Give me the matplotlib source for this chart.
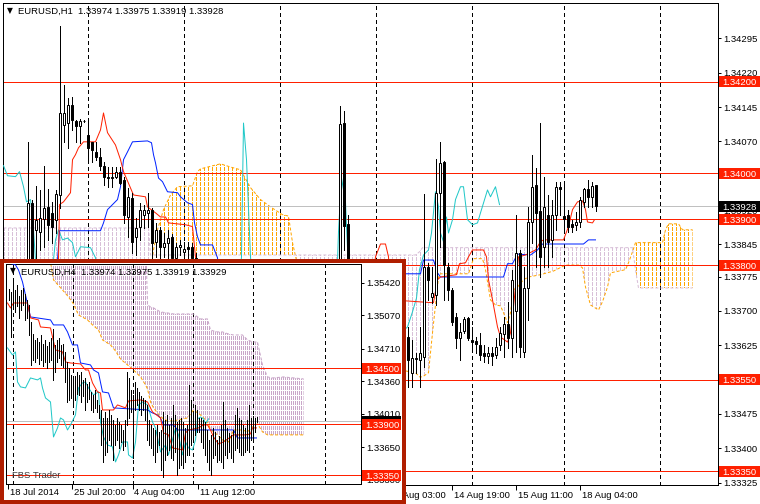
import numpy as np
import matplotlib
matplotlib.use("Agg")
import matplotlib.pyplot as plt
from matplotlib.path import Path
from matplotlib.patches import Rectangle

plt.rcParams['font.family'] = ['Liberation Sans', 'DejaVu Sans']
plt.rcParams['lines.scale_dashes'] = False

nan = np.nan

# ---------------- EURUSD H1 (main chart), bar 0 = first candle on the left ----------------
# bars 43-77 and 81-94 sit behind the H4 window, so they are left empty
h1_open = [1.33760, 1.33936, 1.33877, 1.33873, 1.33901, 1.33927, 1.33914, 1.33899, 1.33953, 1.34106,
           1.34110, 1.34150, 1.34115, 1.34104, 1.34115, 1.34084, 1.34069, 1.34047, 1.34036, 1.34017,
           1.33993, 1.33991, 1.33993, 1.34004, 1.33986, 1.33905, 1.33947, 1.33862, 1.33884, 1.33910,
           1.33914, 1.33921, 1.33851, 1.33877, 1.33840, 1.33849, 1.33862, 1.33816, 1.33840, 1.33829,
           1.33840, 1.33840, 1.33816] + [nan] * 35 + [1.33720, 1.34110, 1.33890] + [nan] * 14 + \
          [1.33643, 1.33565, 1.33595, 1.33593, 1.33600, 1.33796, 1.33731, 1.33735, 1.33958, 1.34025,
           1.33796, 1.33746, 1.33687, 1.33641, 1.33656, 1.33685, 1.33637, 1.33635, 1.33626, 1.33608,
           1.33602, 1.33608, 1.33604, 1.33626, 1.33650, 1.33672, 1.33640, 1.33700, 1.33827, 1.33611,
           1.33750, 1.33894, 1.33975, 1.33918, 1.33840, 1.33910, 1.33855, 1.33910, 1.33971, 1.33907,
           1.33910, 1.33890, 1.33888, 1.33894, 1.33938, 1.33966, 1.33949, 1.33974]
h1_high = [1.34069, 1.33943, 1.33973, 1.33964, 1.34017, 1.33966, 1.33938, 1.33964, 1.34322, 1.34193,
           1.34165, 1.34167, 1.34117, 1.34119, 1.34117, 1.34113, 1.34069, 1.34069, 1.34056, 1.34025,
           1.34014, 1.34014, 1.34014, 1.34014, 1.33993, 1.33969, 1.33958, 1.33903, 1.33936, 1.33932,
           1.33958, 1.33925, 1.33892, 1.33884, 1.33870, 1.33877, 1.33868, 1.33849, 1.33855, 1.33851,
           1.33851, 1.33849, 1.33827] + [nan] * 35 + [1.34148, 1.34137, 1.33910] + [nan] * 14 + \
          [1.33665, 1.33637, 1.33608, 1.33665, 1.33956, 1.33805, 1.33796, 1.34032, 1.34069, 1.34027,
           1.33805, 1.33750, 1.33696, 1.33674, 1.33687, 1.33687, 1.33665, 1.33643, 1.33652, 1.33626,
           1.33621, 1.33621, 1.33641, 1.33665, 1.33687, 1.33720, 1.33790, 1.33910, 1.33833, 1.33796,
           1.33927, 1.34041, 1.34012, 1.34110, 1.33993, 1.33953, 1.33943, 1.33982, 1.33982, 1.33980,
           1.33921, 1.33899, 1.33916, 1.33949, 1.33969, 1.33986, 1.33982, 1.33975]
h1_low = [1.33740, 1.33720, 1.33780, 1.33833, 1.33840, 1.33855, 1.33849, 1.33870, 1.33925, 1.34069,
          1.34056, 1.34095, 1.34069, 1.34067, 1.34113, 1.34030, 1.34025, 1.34030, 1.34008, 1.33975,
          1.33971, 1.33971, 1.33991, 1.33978, 1.33892, 1.33862, 1.33827, 1.33822, 1.33855, 1.33881,
          1.33884, 1.33811, 1.33818, 1.33816, 1.33818, 1.33816, 1.33800, 1.33800, 1.33822, 1.33816,
          1.33816, 1.33790, 1.33780] + [nan] * 35 + [1.33700, 1.33833, 1.33700] + [nan] * 14 + \
         [1.33534, 1.33534, 1.33565, 1.33534, 1.33578, 1.33724, 1.33718, 1.33713, 1.33840, 1.33724,
          1.33724, 1.33670, 1.33619, 1.33593, 1.33652, 1.33637, 1.33615, 1.33608, 1.33593, 1.33589,
          1.33587, 1.33582, 1.33597, 1.33615, 1.33600, 1.33620, 1.33600, 1.33611, 1.33600, 1.33600,
          1.33680, 1.33849, 1.33796, 1.33774, 1.33796, 1.33796, 1.33818, 1.33877, 1.33910, 1.33870,
          1.33873, 1.33873, 1.33877, 1.33884, 1.33927, 1.33927, 1.33927, 1.33919]
h1_close = [1.33936, 1.33760, 1.33899, 1.33903, 1.33925, 1.33888, 1.33884, 1.33956, 1.34132, 1.34132,
            1.34150, 1.34117, 1.34104, 1.34115, 1.34115, 1.34056, 1.34052, 1.34036, 1.34017, 1.33993,
            1.33991, 1.33993, 1.34004, 1.33980, 1.33910, 1.33949, 1.33851, 1.33881, 1.33921, 1.33921,
            1.33921, 1.33849, 1.33877, 1.33840, 1.33849, 1.33859, 1.33816, 1.33840, 1.33844, 1.33835,
            1.33835, 1.33816, 1.33800] + [nan] * 35 + [1.34108, 1.33886, 1.33730] + [nan] * 14 + \
           [1.33593, 1.33597, 1.33597, 1.33608, 1.33796, 1.33768, 1.33739, 1.33958, 1.34023, 1.33800,
            1.33746, 1.33676, 1.33641, 1.33654, 1.33683, 1.33641, 1.33632, 1.33628, 1.33604, 1.33602,
            1.33608, 1.33602, 1.33621, 1.33652, 1.33672, 1.33640, 1.33768, 1.33827, 1.33621, 1.33750,
            1.33894, 1.33971, 1.33914, 1.33818, 1.33927, 1.33851, 1.33910, 1.33971, 1.33966, 1.33901,
            1.33884, 1.33884, 1.33894, 1.33943, 1.33966, 1.33949, 1.33973, 1.33928]

# Ichimoku lines of the H1 chart (x in bars)
h1_tenkan_x = [-6, 7.25, 7.75, 8, 9, 10.75, 11.25, 12, 12.75, 14, 17, 18.25, 19, 20, 22, 23.25, 24, 26.5,
               29.5, 30, 32, 33.25, 34.5, 35.25, 39.5, 41.25, 42, 42.75, 85.75, 87, 88.25, 89.5, 90.25,
               91, 101, 101.5, 102.5, 103.25, 107.25, 108, 109.5, 110.25, 111.25, 114, 114.75, 115.25,
               116.25, 117.5, 118.25, 120, 120.75, 121.5, 122.75, 124.5, 127, 128.25, 129, 134, 135.25,
               136.25, 137.5, 138.75, 139.5, 140, 141.25, 141.75]
h1_tenkan = [1.33724, 1.33724, 1.33811, 1.33932, 1.33938, 1.33958, 1.34030, 1.34041, 1.34056, 1.34069,
             1.34069, 1.34095, 1.34132, 1.34089, 1.34062, 1.34030, 1.34004, 1.33953, 1.33949, 1.33927,
             1.33914, 1.33905, 1.33905, 1.33892, 1.33888, 1.33884, 1.33818, 1.33724, 1.33724, 1.33818,
             1.33846, 1.33846, 1.33818, 1.33724, 1.33718, 1.33718, 1.33768, 1.33774, 1.33779, 1.33803,
             1.33805, 1.33818, 1.33833, 1.33833, 1.33818, 1.33768, 1.33724, 1.33665, 1.33643, 1.33632,
             1.33652, 1.33709, 1.33818, 1.33822, 1.33833, 1.33851, 1.33855, 1.33855, 1.33884, 1.33921,
             1.33938, 1.33940, 1.33921, 1.33894, 1.33892, 1.33899]
h1_kijun_x = [-6, 7.25, 7.5, 8, 18.25, 19, 20, 21.25, 22.5, 23.25, 24, 25, 26.25, 30, 31, 31.5, 32, 32.75,
              33.75, 35, 37.5, 38.25, 40, 41.25, 41.75, 42.5, 43.25, 46.25, 47, 47.5, 48.25, 92, 93.25,
              98.25, 99, 101.5, 102.5, 103.25, 119, 120, 121.25, 122.5, 125.75, 127.5, 128.75, 139,
              140.25, 142]
h1_kijun = [1.33724, 1.33724, 1.33811, 1.33875, 1.33875, 1.33892, 1.33921, 1.33932, 1.33943, 1.33971,
            1.34030, 1.34047, 1.34069, 1.34071, 1.34067, 1.34041, 1.34023, 1.33990, 1.33982, 1.33960,
            1.33958, 1.33949, 1.33936, 1.33932, 1.33892, 1.33862, 1.33844, 1.33844, 1.33827, 1.33816,
            1.33746, 1.33746, 1.33781, 1.33781, 1.33811, 1.33811, 1.33783, 1.33774, 1.33774, 1.33803,
            1.33803, 1.33824, 1.33822, 1.33833, 1.33846, 1.33846, 1.33855, 1.33855]
h1_chikou_x = [-6, -5, -3, -2, -1, -0.25, 0.75, 1.25, 2, 3.25, 5.75, 7, 7.75, 8.75, 10, 11.25, 12, 13.25,
               15.75, 17, 18.25, 52.75, 53.5, 54, 54.75, 55.75, 56.5, 76.75, 77.5, 77.75, 78.5, 79, 79.5,
               79.75, 80.5, 94.25, 95, 96.25, 97.25, 98, 99, 100.25, 101, 102, 102.75, 103.25, 104,
               104.75, 105.25, 106.25, 107, 108.25, 109, 110, 111.25, 112.5, 113.25, 115, 115.75, 117, 118]
h1_chikou = [1.34017, 1.33995, 1.33993, 1.34004, 1.33971, 1.33938, 1.33943, 1.33910, 1.33811, 1.33746,
             1.33746, 1.33855, 1.33877, 1.33855, 1.33859, 1.33849, 1.33818, 1.33840, 1.33838, 1.33816,
             1.33746, 1.33746, 1.33818, 1.34110, 1.34030, 1.33818, 1.33746, 1.33746, 1.33807, 1.33873,
             1.33990, 1.33964, 1.33938, 1.33884, 1.33746, 1.33659, 1.33665, 1.33698, 1.33728, 1.33790,
             1.33822, 1.33833, 1.33870, 1.33960, 1.33927, 1.33870, 1.33851, 1.33905, 1.33870, 1.33899,
             1.33943, 1.33971, 1.33971, 1.33899, 1.33888, 1.33892, 1.33914, 1.33964, 1.33949, 1.33971,
             1.33932]
h1_span_x = [-6, 30.25, 30.75, 31.5, 32.5, 34, 35.75, 37.5, 41.25, 42.5, 43.25, 48.25, 50.75, 53.25,
             55.75, 58.25, 60.75, 63.75, 65.25, 66.25, 67.5, 70.75, 93.25, 97, 98, 98.75, 100.25, 101.25,
             102, 102.75, 103.25, 110.25, 111.5, 113.75, 114.5, 115.75, 117, 118.25, 119, 120, 120.75,
             121.5, 122.5, 124, 125.25, 128.25, 131.5, 134.5, 137.75, 138.75, 139.5, 140.75, 142.75,
             143.75, 145, 145.75, 149.5, 150.25, 151.25, 152, 152.75, 158.75, 159.5, 160.25, 162.75,
             163.75, 166.25]
h1_span_a = [1.33724, 1.33724, 1.33779, 1.33833, 1.33877, 1.33921, 1.33953, 1.33971, 1.33973, 1.34004,
             1.34010, 1.34021, 1.34014, 1.34008, 1.33969, 1.33943, 1.33927, 1.33910, 1.33907, 1.33849,
             1.33800, 1.33724, 1.33571, 1.33565, 1.33556, 1.33556, 1.33565, 1.33652, 1.33713, 1.33774,
             1.33781, 1.33781, 1.33814, 1.33814, 1.33790, 1.33724, 1.33713, 1.33711, 1.33696, 1.33674,
             1.33696, 1.33746, 1.33752, 1.33768, 1.33774, 1.33779, 1.33787, 1.33800, 1.33800, 1.33794,
             1.33752, 1.33713, 1.33702, 1.33720, 1.33752, 1.33783, 1.33790, 1.33805, 1.33829, 1.33849,
             1.33849, 1.33849, 1.33877, 1.33890, 1.33890, 1.33877, 1.33877]
h1_span_b = [1.33881] * 2 + [1.33822] * 22 + [1.33829] + [1.33838] * 34 + [1.33790] + [1.33750] * 7

h1_levels = [1.34200, 1.34000, 1.33900, 1.33800, 1.33550, 1.33350]
h1_last = 1.33928
h1_price_ticks = [1.34295, 1.34220, 1.34145, 1.34070, 1.33995, 1.33920, 1.33845, 1.33775, 1.33700,
                  1.33625, 1.33475, 1.33400, 1.33325]
h1_grid = [15, 39, 63, 87, 111, 134, 158]
h1_date_pos = [90, 106, 122, 138]
h1_date_lab = ['13 Aug 03:00', '14 Aug 19:00', '15 Aug 11:00', '18 Aug 04:00']

# ---------------- EURUSD H4 (small window), bar 0 = first bar on the left ----------------
h4_high = [1.35353, 1.35321, 1.35428, 1.35342, 1.35396, 1.35278, 1.35342, 1.35364, 1.35299, 1.35235,
           1.35181, 1.34998, 1.34869, 1.34805, 1.34826, 1.34783, 1.34858, 1.34762, 1.34805, 1.34740,
           1.34783, 1.34826, 1.34923, 1.34751, 1.34805, 1.34826, 1.34751, 1.34762, 1.34676, 1.34568,
           1.34504, 1.34429, 1.34375, 1.34418, 1.34461, 1.34429, 1.34461, 1.34375, 1.34396, 1.34332,
           1.34353, 1.34246, 1.34214, 1.34267, 1.34160, 1.34106, 1.34052, 1.33966, 1.34031, 1.33966,
           1.34052, 1.33999, 1.33945, 1.33891, 1.33966, 1.33923, 1.33891, 1.33837, 1.33945, 1.34461,
           1.34396, 1.34267, 1.34214, 1.34353, 1.34289, 1.34246, 1.34203, 1.34181, 1.34160, 1.34106,
           1.33945, 1.33891, 1.33859, 1.33837, 1.33891, 1.33816, 1.33837, 1.34031, 1.33945, 1.33999,
           1.33891, 1.33966, 1.34106, 1.33999, 1.33923, 1.33945, 1.33966, 1.33923, 1.33859, 1.33891,
           1.34321, 1.34160, 1.34031, 1.34106, 1.34052, 1.33966, 1.33966, 1.33945, 1.33923, 1.33837,
           1.33730, 1.33784, 1.33859, 1.33816, 1.33730, 1.33773, 1.33891, 1.34138, 1.33945, 1.33859,
           1.33805, 1.33784, 1.33837, 1.33999, 1.34074, 1.33966, 1.33945, 1.33891, 1.33859, 1.33945,
           1.34106, 1.33966, 1.33988, 1.33966, 1.33975]
h4_low = [1.35235, 1.34837, 1.35181, 1.35106, 1.35170, 1.35041, 1.35127, 1.35181, 1.35020, 1.35041,
          1.34858, 1.34536, 1.34590, 1.34568, 1.34611, 1.34547, 1.34590, 1.34525, 1.34568, 1.34504,
          1.34568, 1.34590, 1.34375, 1.34461, 1.34568, 1.34611, 1.34536, 1.34514, 1.34353, 1.34138,
          1.34160, 1.34181, 1.34117, 1.34160, 1.34224, 1.34214, 1.34138, 1.34203, 1.34052, 1.34138,
          1.34171, 1.34052, 1.34031, 1.34074, 1.34031, 1.33966, 1.33676, 1.33493, 1.33569, 1.33601,
          1.33730, 1.33676, 1.33515, 1.33676, 1.33730, 1.33644, 1.33708, 1.33622, 1.33665, 1.33891,
          1.33966, 1.34031, 1.33536, 1.34052, 1.34106, 1.34052, 1.33999, 1.34052, 1.33945, 1.33730,
          1.33676, 1.33644, 1.33569, 1.33493, 1.33601, 1.33676, 1.33407, 1.33332, 1.33515, 1.33569,
          1.33622, 1.33536, 1.33515, 1.33601, 1.33354, 1.33429, 1.33461, 1.33429, 1.33493, 1.33569,
          1.33569, 1.33676, 1.33708, 1.33784, 1.33816, 1.33816, 1.33708, 1.33644, 1.33569, 1.33493,
          1.33407, 1.33354, 1.33536, 1.33569, 1.33493, 1.33515, 1.33493, 1.33429, 1.33569, 1.33536,
          1.33601, 1.33536, 1.33493, 1.33622, 1.33644, 1.33601, 1.33569, 1.33569, 1.33601, 1.33622,
          1.33601, 1.33730, 1.33751, 1.33816, 1.33919]

h4_tenkan_x = [-0.5, 1, 2.5, 9.5, 11, 15, 16, 21, 22, 23.5, 27, 28.5, 31, 36, 38.5, 40, 42, 44.5, 46, 47,
               52.5, 54.5, 58.5, 60, 66, 69.5, 72, 76, 77.5, 80, 82, 87, 88.5, 90, 95, 97.5, 99.5, 101,
               102.5, 105, 107.5, 112.5, 118.5, 121, 122, 124]
h4_tenkan = [1.35202, 1.35149, 1.35202, 1.35202, 1.35041, 1.35020, 1.34944, 1.34934, 1.34837, 1.34697,
             1.34676, 1.34568, 1.34557, 1.34547, 1.34482, 1.34482, 1.34343, 1.34246, 1.34235, 1.34052,
             1.34052, 1.34106, 1.34074, 1.34149, 1.34160, 1.34138, 1.34031, 1.33966, 1.33805, 1.33784,
             1.33644, 1.33622, 1.33805, 1.33837, 1.33859, 1.33891, 1.33891, 1.33837, 1.33762, 1.33687,
             1.33708, 1.33784, 1.33784, 1.33794, 1.33859, 1.33859]
h4_kijun_x = [-1, 3.5, 5, 7, 8.5, 11, 14.5, 21, 22.5, 27.5, 29.5, 32, 34.5, 36, 41, 42.5, 45, 47, 50, 52.5,
              69.5, 72, 74.5, 76, 77.5, 82.5, 84.5, 112.5, 114.5, 124]
h4_kijun = [1.35643, 1.35611, 1.35557, 1.35428, 1.35288, 1.35052, 1.35041, 1.35020, 1.34966, 1.34966,
            1.34891, 1.34751, 1.34751, 1.34557, 1.34536, 1.34482, 1.34450, 1.34246, 1.34235, 1.34074,
            1.34052, 1.34020, 1.33999, 1.33966, 1.33891, 1.33891, 1.33837, 1.33837, 1.33751, 1.33751]
h4_chikou_x = [-0.5, 2, 3.5, 4.5, 6, 8.5, 11, 14.5, 16, 17, 18.5, 21, 22.5, 24.5, 26, 27.5, 29.5, 31, 33.5,
               35, 37, 38.5, 40, 42.5, 45, 46, 47.5, 49.5, 52, 53.5, 55, 57, 59.5, 60, 62, 63.5, 65, 67,
               69.5, 72, 73.5, 76, 78.5, 80, 82, 83.5, 85, 87, 88.5, 90, 92, 93.5, 94.5, 96, 97.5, 98.5, 100]
h4_chikou = [1.34719, 1.34643, 1.34676, 1.34353, 1.34300, 1.34289, 1.34396, 1.34375, 1.34396, 1.34289,
             1.34181, 1.34138, 1.33762, 1.33859, 1.33966, 1.33945, 1.33837, 1.33891, 1.33999, 1.34289,
             1.34343, 1.34353, 1.34289, 1.34214, 1.34246, 1.33923, 1.33762, 1.33676, 1.33655, 1.33493,
             1.33569, 1.33708, 1.33708, 1.33569, 1.33536, 1.33708, 1.34106, 1.34138, 1.34106, 1.33923,
             1.33859, 1.33601, 1.33676, 1.33569, 1.33730, 1.33859, 1.33784, 1.33569, 1.33708, 1.33644,
             1.33622, 1.33730, 1.33956, 1.33977, 1.33956, 1.33902, 1.33956]
h4_span_x = [-1, 18.5, 21, 22.5, 27, 30, 32.5, 35, 39.5, 42, 45, 47, 51, 53.5, 56, 59.5, 62, 66, 68.5, 69.5,
             71, 72.5, 76, 79.5, 82.5, 89.5, 92.5, 96, 99.5, 101, 102.5, 104.5, 107, 110, 112.5, 117,
             119.5, 122, 124.5, 127, 129.5, 132, 137.5, 147.5]
h4_span_a = [1.35879, 1.35772, 1.35643, 1.35450, 1.35342, 1.35267, 1.35192, 1.35073, 1.35020, 1.34966,
             1.34912, 1.34805, 1.34751, 1.34686, 1.34600, 1.34536, 1.34493, 1.34407, 1.34321, 1.34278,
             1.34138, 1.34074, 1.33977, 1.33934, 1.33934, 1.33966, 1.34052, 1.33999, 1.33923, 1.33848,
             1.33816, 1.33784, 1.33730, 1.33708, 1.33837, 1.33837, 1.33816, 1.33870, 1.33902, 1.33816,
             1.33784, 1.33784, 1.33784, 1.33784]
h4_span_b = [1.35987] * 19 + [1.35181, 1.35159, 1.35149, 1.35106, 1.35095, 1.35084, 1.35084, 1.35084,
                              1.35030, 1.35030, 1.34912, 1.34901, 1.34891, 1.34891, 1.34869, 1.34858,
                              1.34858, 1.34805, 1.34783, 1.34783, 1.34536, 1.34407, 1.34396, 1.34407,
                              1.34386]

h4_levels = [1.34500, 1.33900, 1.33350]
h4_last = 1.33929
h4_price_ticks = [1.35420, 1.35070, 1.34710, 1.34360, 1.34010, 1.33650, 1.33300]
h4_grid = [2, 32, 62, 92, 122, 158]
h4_date_pos = [-0.5, 31.5, 62, 94.5]
h4_date_lab = ['18 Jul 2014', '25 Jul 20:00', '4 Aug 04:00', '11 Aug 12:00']

# ---------------- styling ----------------
RED = '#ff2000'
BLUE = '#0022ff'
CYAN = '#20c8c8'
SANDY = '#ffa500'
THISTLE = '#d8bfd8'
THISTLE_H4 = '#c9a6c9'
SILVER = '#c0c0c0'
FRAME_RED = '#b01e00'
FS = 6.8
PX = 0.72          # one pixel in points at 100 dpi
W, H = 760, 504

fig = plt.figure(figsize=(W / 100, H / 100), dpi=100)
fig.patch.set_facecolor('white')


def box(x0, y0, x1, y1):
    return [x0 / W, 1 - y1 / H, (x1 - x0) / W, (y1 - y0) / H]


def crisp_vlines(ax, x, lo, hi, color, dash=None, z=1):
    kw = {} if dash is None else {'linestyles': [(0, dash)]}
    lc = ax.vlines(x, lo, hi, colors=color, linewidth=PX, zorder=z, **kw)
    lc.set_antialiased(False)
    return lc


def cloud(ax, x, a, b, thistle, dash):
    x, a, b = np.asarray(x), np.asarray(a), np.asarray(b)
    lo, hi = ax.get_ylim()
    cols = np.arange(np.ceil(x[0]), x[-1] + 1e-9, 1)
    for mask, col in ((a >= b, SANDY), (a < b, thistle)):
        poly = ax.fill_between(x, a, b, where=mask, interpolate=True,
                               facecolor='none', edgecolor='none', linewidth=0)
        paths = poly.get_paths()
        if len(paths) == 0:
            continue
        hatch = crisp_vlines(ax, cols, lo, hi, col, dash=dash, z=1)
        hatch.set_clip_path(Path.make_compound_path(*paths), ax.transData)
    ax.plot(x, a, color=SANDY, lw=PX, ls=(0, (3 * PX, 2 * PX)), zorder=1.5)
    ax.plot(x, b, color=thistle, lw=PX, ls=(0, (3 * PX, 2 * PX)), zorder=1.5)


def frame(ax):
    for s in ax.spines.values():
        s.set_color('black')
        s.set_linewidth(PX)
    ax.set_facecolor('white')


def price_tag(ax, price, text, fc, x0, x1, z):
    yc = ax.transData.transform((0, price))[1]
    fig.add_artist(Rectangle((x0 / W, (yc - 5.5) / H), (x1 - x0) / W, 11 / H,
                             transform=fig.transFigure, fc=fc, ec='none', zorder=z))
    fig.text((x0 + 3) / W, yc / H, text, color='white', fontsize=FS,
             ha='left', va='center_baseline', zorder=z + 0.1)


def chart(ax, grid, levels, last, ticks, date_pos, date_lab, label_dy):
    lo, hi = ax.get_ylim()
    crisp_vlines(ax, grid, lo, hi, 'black', dash=(3 * PX, 3 * PX), z=1.2)
    ax.axhline(last, color=SILVER, lw=PX, zorder=2)
    for lv in levels:
        ax.axhline(lv, color=RED, lw=PX, zorder=2)
    ax.yaxis.tick_right()
    ax.set_yticks(ticks)
    ax.set_yticklabels(['%.5f' % t for t in ticks])
    ax.tick_params(axis='y', length=3 * PX, width=PX, pad=2 * PX, labelsize=FS, direction='out')
    ax.set_xticks(date_pos)
    ax.set_xticklabels([])
    ax.tick_params(axis='x', length=5 * PX, width=PX, direction='out')
    for p, lab in zip(date_pos, date_lab):
        ax.annotate(lab, xy=(p, 0), xycoords=('data', 'axes fraction'), xytext=(2 * PX, label_dy),
                    textcoords='offset points', ha='left', va='center', fontsize=FS,
                    annotation_clip=False)


# ---------------- main H1 chart ----------------
ax = fig.add_axes(box(3, 3, 718, 485))
ax.set_xlim(-6.125, 172.625)
ax.set_ylim(1.33320, 1.34372)
frame(ax)
cloud(ax, h1_span_x, h1_span_a, h1_span_b, THISTLE, (3 * PX, 2 * PX))
chart(ax, h1_grid, h1_levels, h1_last, h1_price_ticks, h1_date_pos, h1_date_lab, -7.4)
ax.plot(h1_chikou_x, h1_chikou, color=CYAN, lw=PX, zorder=3)
ax.plot(h1_kijun_x, h1_kijun, color=BLUE, lw=PX, zorder=3)
ax.plot(h1_tenkan_x, h1_tenkan, color=RED, lw=PX, zorder=3)

o, hh, ll, c = (np.array(v) for v in (h1_open, h1_high, h1_low, h1_close))
idx = np.arange(len(c))
ok = ~np.isnan(c)
crisp_vlines(ax, idx[ok], ll[ok], hh[ok], 'black', z=4)
ax.bar(idx[ok], np.abs(c - o)[ok], bottom=np.minimum(o, c)[ok], width=0.5,
       color=['white' if up else 'black' for up in (c >= o)[ok]],
       edgecolor='black', linewidth=PX, zorder=5)

price_tag(ax, h1_last, '%.5f' % h1_last, 'black', 719, 760, 2)
for lv in h1_levels:
    price_tag(ax, lv, '%.5f' % lv, RED, 719, 760, 2.5)

fig.text(7 / W, 1 - 11 / H, '\u25bc', fontsize=5.5, family='DejaVu Sans', va='center', zorder=3)
fig.text(18 / W, 1 - 11 / H, 'EURUSD,H1  1.33974 1.33975 1.33919 1.33928', fontsize=FS,
         va='center', zorder=3)

# ---------------- H4 window ----------------
holder = fig.add_axes(box(2, 261, 403.5, 502), zorder=5)
holder.set_xticks([])
holder.set_yticks([])
holder.set_facecolor('white')
for s in holder.spines.values():
    s.set_color(FRAME_RED)
    s.set_linewidth(4 * PX)

ins = fig.add_axes(box(6, 264, 361, 484), zorder=6)
ins.set_xlim(-1.25, 176.25)
ins.set_ylim(1.33256, 1.35621)
frame(ins)
cloud(ins, h4_span_x, h4_span_a, h4_span_b, THISTLE_H4, (3 * PX, 1.5 * PX))
chart(ins, h4_grid, h4_levels, h4_last, h4_price_ticks, h4_date_pos, h4_date_lab, -5.8)
ins.plot(h4_chikou_x, h4_chikou, color=CYAN, lw=PX, zorder=3)
ins.plot(h4_kijun_x, h4_kijun, color=BLUE, lw=PX, zorder=3)
ins.plot(h4_tenkan_x, h4_tenkan, color=RED, lw=PX, zorder=3)
crisp_vlines(ins, np.arange(len(h4_high)), h4_low, h4_high, 'black', z=4)

price_tag(ins, h4_last, '%.5f' % h4_last, 'black', 362, 401, 7)
for lv in h4_levels:
    price_tag(ins, lv, '%.5f' % lv, RED, 362, 401, 7.5)

fig.text(10 / W, 1 - 271 / H, '\u25bc', fontsize=5.5, family='DejaVu Sans', va='center', zorder=8)
fig.text(21 / W, 1 - 272 / H, 'EURUSD,H4  1.33974 1.33975 1.33919 1.33929', fontsize=FS,
         va='center', zorder=8)
fig.text(12 / W, 1 - 476 / H, 'FBS Trader', fontsize=FS, color='#3a3a3a', va='center', zorder=8)

fig.savefig('out.png', dpi=100)
